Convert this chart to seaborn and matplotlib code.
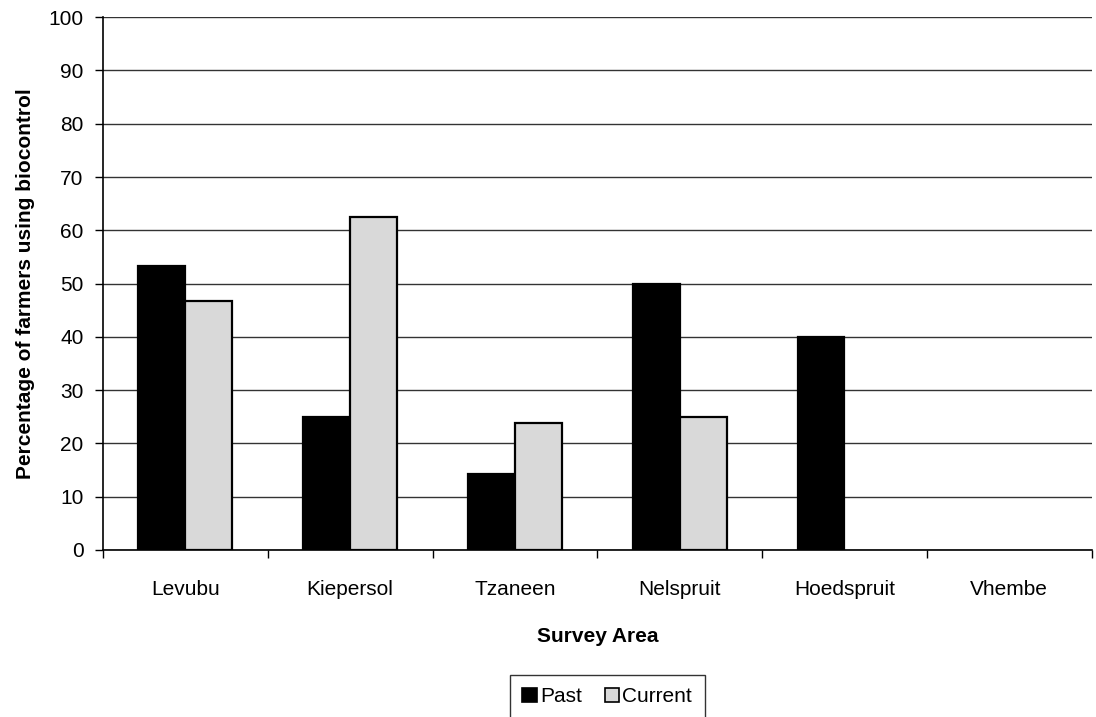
import pandas as pd
import numpy as np
import matplotlib.pyplot as plt
import seaborn as sns
from matplotlib.patches import Patch
from matplotlib.ticker import FixedLocator

# data
areas = ['Levubu', 'Kiepersol', 'Tzaneen', 'Nelspruit', 'Hoedspruit', 'Vhembe']
past = [53.3, 25.0, 14.3, 50.0, 40.0, 0.0]
current = [46.7, 62.5, 23.8, 25.0, 0.0, 0.0]
periods = ['Past', 'Current']
colors = ['#000000', '#d9d9d9']

df = pd.DataFrame({
    'Area': areas * 2,
    'Period': ['Past'] * len(areas) + ['Current'] * len(areas),
    'Value': past + current,
})

sns.set_style('white', {'text.color': 'black', 'axes.labelcolor': 'black',
                        'xtick.color': 'black', 'ytick.color': 'black'})
plt.rcParams['font.family'] = ['Liberation Sans', 'DejaVu Sans']
fs = 15

fig = plt.figure(figsize=(10.96, 7.17), dpi=100)
ax = fig.add_axes([0.094, 0.233, 0.902, 0.743])

sns.barplot(data=df, x='Area', y='Value', hue='Period', hue_order=periods,
            palette=colors, width=0.57, edgecolor='black', linewidth=1.6,
            saturation=1, ax=ax, legend=False, zorder=3)

# empty bars leave no outline on the axis
for p in ax.patches:
    if p.get_height() == 0:
        p.set_linewidth(0)

ax.set_ylim(0, 100)
ax.set_xlim(-0.5, len(areas) - 0.5)
ax.set_yticks(np.arange(0, 101, 10))
ax.yaxis.grid(True, color='#333333', linewidth=1.0, zorder=0)
ax.set_axisbelow(True)

for s in ['top', 'right']:
    ax.spines[s].set_visible(False)
for s in ['left', 'bottom']:
    ax.spines[s].set_color('black')
    ax.spines[s].set_linewidth(1.2)

# Excel-style ticks at category boundaries
ax.xaxis.set_minor_locator(FixedLocator(np.arange(-0.5, len(areas), 1.0)))
ax.tick_params(axis='x', which='major', length=0, pad=22, labelsize=fs, labelcolor='black')
ax.tick_params(axis='x', which='minor', length=6, width=1, color='black', direction='out', bottom=True)
ax.tick_params(axis='y', which='major', length=6, width=1, color='black', direction='out',
               left=True, labelsize=fs, pad=8, labelcolor='black')

ax.set_xlabel('Survey Area', fontsize=fs, fontweight='bold', labelpad=20, color='black')
ax.set_ylabel('Percentage of farmers using biocontrol', fontsize=fs, fontweight='bold',
              labelpad=10, color='black')

handles = [Patch(facecolor=c, edgecolor='black', linewidth=1.2, label=p) for c, p in zip(colors, periods)]
leg = fig.legend(handles=handles, loc='upper center', bbox_to_anchor=(0.554, 0.059), ncol=2,
                 frameon=True, fancybox=False, fontsize=fs, handlelength=0.7, handleheight=0.7,
                 handletextpad=0.15, columnspacing=1.1, borderpad=0.6, borderaxespad=0,
                 labelcolor='black')
leg.get_frame().set_edgecolor('black')
leg.get_frame().set_linewidth(1.0)

fig.savefig('out.png', dpi=100)
